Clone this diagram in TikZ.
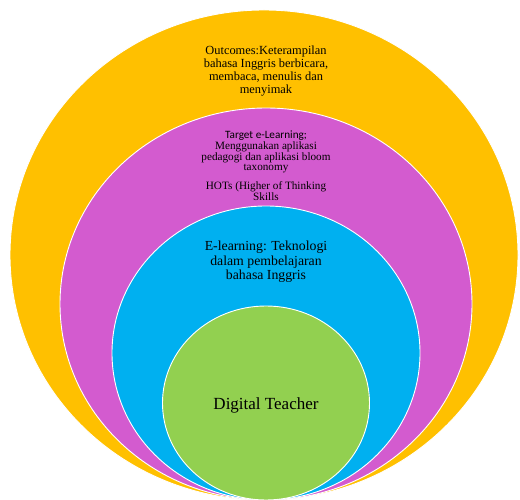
\documentclass[tikz,border=0pt]{standalone}
\usepackage{fontspec}
\setmainfont{Liberation Serif}
\newfontfamily\carlito{Carlito}
\usetikzlibrary{shapes.geometric}
\definecolor{ringorange}{HTML}{FFC000}
\definecolor{ringpurple}{HTML}{D35BCF}
\definecolor{ringblue}{HTML}{00B0F0}
\definecolor{ringgreen}{HTML}{92D050}
\tikzset{
  ring/.style={ellipse, draw=white, line width=0.9pt, inner sep=0pt},
  lbl/.style={align=center, text=black, inner sep=0pt}
}
\begin{document}
\begin{tikzpicture}[x=1pt,y=-1pt]
\useasboundingbox (0,0) rectangle (520,500);
\node[ring, fill=ringorange, minimum width=508pt, minimum height=490pt] (outer) at (264,255) {};
\node[ring, fill=ringpurple, minimum width=412pt, minimum height=392pt] (mid) at (266,304) {};
\node[ring, fill=ringblue, minimum width=308pt, minimum height=294pt] (inner) at (266,353) {};
\node[ring, fill=ringgreen, minimum width=207pt, minimum height=194pt] (core) at (266,403) {};
\node[lbl, font=\fontsize{12.4}{12.8}\selectfont] (outcomes) at (266,71)
  {Outcomes:Keterampilan\\bahasa Inggris berbicara,\\membaca, menulis dan\\menyimak};
\node[lbl, font=\fontsize{11.2}{10.8}\selectfont] (target) at (266,152)
  {{\carlito Target e-Learning;}\\Menggunakan aplikasi\\pedagogi dan aplikasi bloom\\taxonomy};
\node[lbl, font=\fontsize{11.2}{10.8}\selectfont] (hots) at (266,191)
  {HOTs (Higher of Thinking\\Skills};
\node[lbl, font=\fontsize{13.8}{14.5}\selectfont] (elearn) at (266,262)
  {E-learning: Teknologi\\dalam pembelajaran\\bahasa Inggris};
\node[lbl, font=\fontsize{17}{18}\selectfont] (digital) at (266,405) {Digital Teacher};
\end{tikzpicture}
\end{document}
